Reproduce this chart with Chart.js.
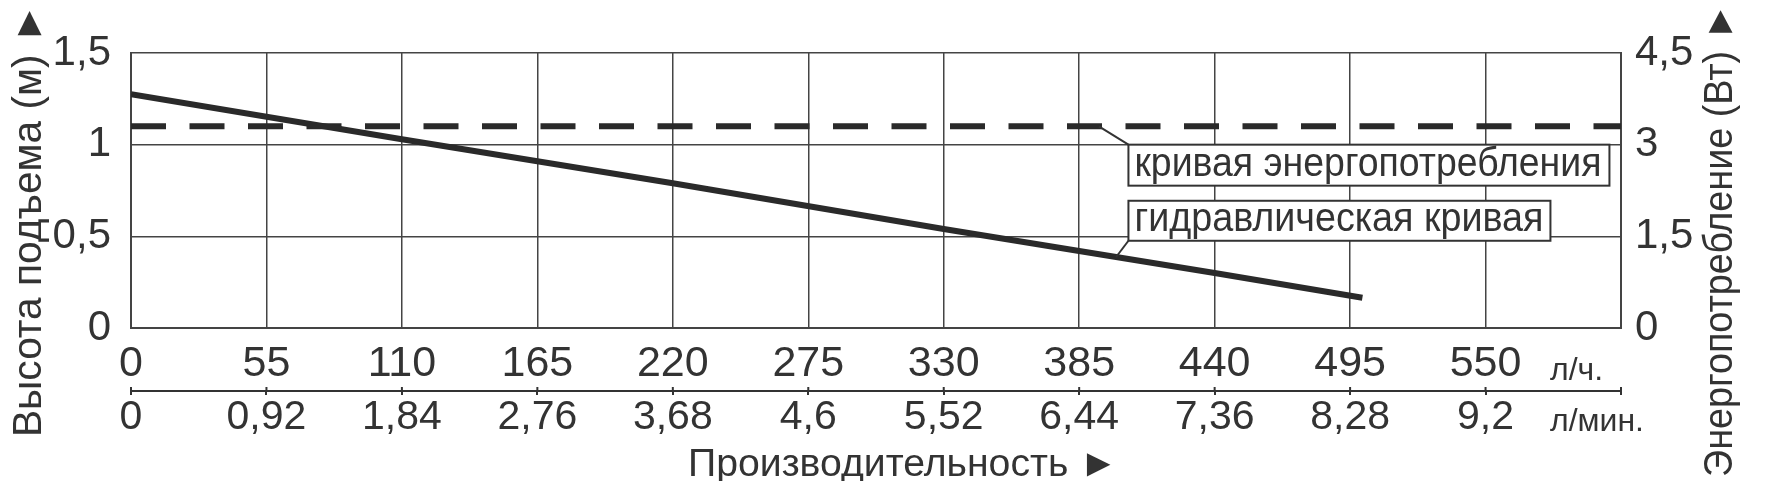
<!DOCTYPE html>
<html>
<head>
<meta charset="utf-8">
<script src="https://cdn.jsdelivr.net/npm/chart.js@4.4.1/dist/chart.umd.min.js"></script>
<style>
  html, body { margin: 0; padding: 0; background: #fff; }
</style>
</head>
<body>
<canvas id="pumpChart" width="1780" height="481"></canvas>
<script>
// flow ticks (l/h) and the matching l/min labels
const flowLph = [0, 55, 110, 165, 220, 275, 330, 385, 440, 495, 550];
const flowLpmLabels = ['0', '0,92', '1,84', '2,76', '3,68', '4,6', '5,52', '6,44', '7,36', '8,28', '9,2'];
const flowMax = 605;

const headTicks = [0, 0.5, 1, 1.5];
const headLabels = ['0', '0,5', '1', '1,5'];
const powerTicks = [0, 1.5, 3, 4.5];
const powerLabels = ['0', '1,5', '3', '4,5'];

// hydraulic curve (head, m) and power curve (W)
const hydroFlow = [0, 110, 220, 330, 440, 500];
const hydroHead = [1.275, 1.03, 0.79, 0.54, 0.30, 0.165];
const powerFlow = [0, 605];
const powerWatts = [3.3, 3.3];

const INK = '#333';
const FONT = "'Liberation Sans', Arial, sans-serif";

Chart.defaults.font.family = FONT;
Chart.defaults.color = INK;

function headAt(q) {
    for (let i = 1; i < hydroFlow.length; i++) {
        if (q <= hydroFlow[i]) {
            const t = (q - hydroFlow[i - 1]) / (hydroFlow[i] - hydroFlow[i - 1]);
            return hydroHead[i - 1] + t * (hydroHead[i] - hydroHead[i - 1]);
        }
    }
    return hydroHead[hydroHead.length - 1];
}

// text squeezed/stretched along its baseline to a given length
function fitText(ctx, text, x, y, width) {
    const m = ctx.measureText(text).width;
    ctx.save();
    ctx.translate(x, y);
    ctx.scale(width / m, 1);
    ctx.fillText(text, 0, 0);
    ctx.restore();
}

function noteBox(ctx, text, left, top, w, h, textW) {
    ctx.fillStyle = '#fff';
    ctx.fillRect(left, top, w, h);
    ctx.lineWidth = 2;
    ctx.strokeStyle = INK;
    ctx.strokeRect(left, top, w, h);
    ctx.fillStyle = INK;
    ctx.font = '40px ' + FONT;
    ctx.textAlign = 'left';
    ctx.textBaseline = 'alphabetic';
    fitText(ctx, text, left + 6, top + h - 10, textW);
}

const extrasPlugin = {
    id: 'pumpExtras',
    afterDraw(chart) {
        const { ctx, scales } = chart;
        const { x, x2, y, y2 } = scales;
        ctx.save();

        // little upward ticks on the l/min line
        ctx.strokeStyle = INK;
        ctx.lineWidth = 2;
        flowLph.concat([flowMax]).forEach(v => {
            const px = x2.getPixelForValue(v);
            ctx.beginPath();
            ctx.moveTo(px, x2.top - 4);
            ctx.lineTo(px, x2.top);
            ctx.stroke();
        });

        // callout for the power curve
        const b1x = x.getPixelForValue(405);
        const b1y = y.getPixelForValue(1.0);
        ctx.beginPath();
        ctx.moveTo(x.getPixelForValue(393), y2.getPixelForValue(powerWatts[0]));
        ctx.lineTo(b1x, b1y);
        ctx.stroke();
        noteBox(ctx, 'кривая энергопотребления', b1x, b1y, 481, 41, 467);

        // callout for the hydraulic curve
        const b2y = y.getPixelForValue(0.694);
        ctx.strokeStyle = INK;
        ctx.lineWidth = 2;
        ctx.beginPath();
        ctx.moveTo(b1x, b2y + 40);
        ctx.lineTo(x.getPixelForValue(400), y.getPixelForValue(headAt(400)));
        ctx.stroke();
        noteBox(ctx, 'гидравлическая кривая', b1x, b2y, 422, 40, 409);

        // units
        ctx.fillStyle = INK;
        ctx.textAlign = 'left';
        ctx.textBaseline = 'alphabetic';
        ctx.font = '32px ' + FONT;
        ctx.fillText('л/ч.', 1550, 380);
        ctx.fillText('л/мин.', 1550, 431);

        // axis titles
        ctx.font = '39px ' + FONT;
        fitText(ctx, 'Производительность ►', 688, 476, 430);

        ctx.font = '40px ' + FONT;
        ctx.textBaseline = 'middle';
        ctx.save();
        ctx.translate(30, 437);
        ctx.rotate(-Math.PI / 2);
        fitText(ctx, 'Высота подъема (м) ►', 0, 0, 434);
        ctx.restore();

        ctx.save();
        ctx.translate(1721, 477);
        ctx.rotate(-Math.PI / 2);
        fitText(ctx, 'Энергопотребление (Вт) ►', 0, 0, 474);
        ctx.restore();

        ctx.restore();
    }
};

const gridOpts = { color: '#444', lineWidth: 1.5, drawTicks: false };
const borderOpts = { display: true, color: '#444', width: 2 };

new Chart(document.getElementById('pumpChart'), {
    type: 'line',
    data: {
        datasets: [
            {
                label: 'гидравлическая кривая',
                data: hydroFlow.map((q, i) => ({ x: q, y: hydroHead[i] })),
                xAxisID: 'x',
                yAxisID: 'y',
                borderColor: '#2a2a2a',
                borderWidth: 6,
                borderCapStyle: 'butt',
                pointRadius: 0,
                tension: 0
            },
            {
                label: 'кривая энергопотребления',
                data: powerFlow.map((q, i) => ({ x: q, y: powerWatts[i] })),
                xAxisID: 'x',
                yAxisID: 'y2',
                borderColor: '#2a2a2a',
                borderWidth: 6,
                borderDash: [35, 23.5],
                borderCapStyle: 'butt',
                pointRadius: 0
            }
        ]
    },
    options: {
        responsive: false,
        devicePixelRatio: 1,
        animation: false,
        layout: { padding: { top: 53, left: 0, right: 0, bottom: 0 } },
        plugins: { legend: { display: false }, tooltip: { enabled: false } },
        scales: {
            x: {
                type: 'linear',
                position: 'bottom',
                weight: 0,
                min: 0,
                max: flowMax,
                afterBuildTicks: s => { s.ticks = flowLph.concat([flowMax]).map(v => ({ value: v })); },
                afterFit: s => { s.height = 63; },
                grid: gridOpts,
                border: borderOpts,
                ticks: {
                    autoSkip: false,
                    maxRotation: 0,
                    padding: 15,
                    font: { size: 43, lineHeight: 1 },
                    callback: (v, i) => (i < flowLph.length ? String(flowLph[i]) : '')
                }
            },
            x2: {
                type: 'linear',
                position: 'bottom',
                weight: 1,
                min: 0,
                max: flowMax,
                afterBuildTicks: s => { s.ticks = flowLph.concat([flowMax]).map(v => ({ value: v })); },
                afterFit: s => { s.height = 90; },
                grid: { drawOnChartArea: false, drawTicks: true, tickLength: 4, color: INK, lineWidth: 2 },
                border: { display: true, color: INK, width: 2 },
                ticks: {
                    autoSkip: false,
                    maxRotation: 0,
                    padding: 2,
                    font: { size: 41, lineHeight: 1 },
                    callback: (v, i) => (i < flowLpmLabels.length ? flowLpmLabels[i] : '')
                }
            },
            y: {
                position: 'left',
                min: 0,
                max: 1.5,
                afterBuildTicks: s => { s.ticks = headTicks.map(v => ({ value: v })); },
                afterFit: s => { s.width = 131; },
                grid: gridOpts,
                border: borderOpts,
                ticks: {
                    padding: 20,
                    font: { size: 42, lineHeight: 1 },
                    callback: (v, i) => headLabels[i]
                }
            },
            y2: {
                position: 'right',
                min: 0,
                max: 4.5,
                afterBuildTicks: s => { s.ticks = powerTicks.map(v => ({ value: v })); },
                afterFit: s => { s.width = 159; },
                grid: { drawOnChartArea: false, drawTicks: false },
                border: borderOpts,
                ticks: {
                    padding: 14,
                    font: { size: 42, lineHeight: 1 },
                    callback: (v, i) => powerLabels[i]
                }
            }
        }
    },
    plugins: [extrasPlugin]
});
</script>
</body>
</html>
